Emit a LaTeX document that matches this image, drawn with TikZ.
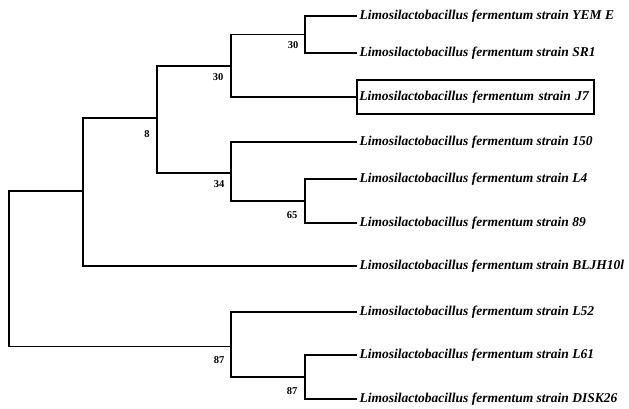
\documentclass[tikz,border=0pt]{standalone}
\usepackage{fontspec}
\setmainfont{Liberation Serif}
\begin{document}
\begin{tikzpicture}[x=1pt,y=-1pt,
  branch/.style={line width=1.5pt},
  leaf/.style={anchor=west,inner sep=2.5pt,font=\fontsize{13.5}{15}\selectfont\bfseries\itshape},
  boot/.style={font=\fontsize{10.5}{12}\selectfont\bfseries}]
\useasboundingbox (0,0) rectangle (629,408);
% leaves
\node[leaf] (yeme) at (357,16) {Limosilactobacillus fermentum strain YEM E};
\node[leaf] (sr1) at (357,53) {Limosilactobacillus fermentum strain SR1};
\node[leaf,draw,line width=1.8pt,minimum height=34pt,text width=232pt] (j7) at (356,97) {Limosilactobacillus fermentum strain J7};
\node[leaf] (l150) at (357,142) {Limosilactobacillus fermentum strain 150};
\node[leaf] (l4) at (357,179) {Limosilactobacillus fermentum strain L4};
\node[leaf] (l89) at (357,223) {Limosilactobacillus fermentum strain 89};
\node[leaf] (bljh) at (357,266) {Limosilactobacillus fermentum strain BLJH10l};
\node[leaf] (l52) at (357,312) {Limosilactobacillus fermentum strain L52};
\node[leaf] (l61) at (357,355) {Limosilactobacillus fermentum strain L61};
\node[leaf] (disk) at (357,399) {Limosilactobacillus fermentum strain DISK26};
% internal nodes
\coordinate (A) at (305,34.5);
\coordinate (B) at (231,66);
\coordinate (C) at (157,118);
\coordinate (D) at (231,173);
\coordinate (E) at (305,201);
\coordinate (F) at (83,191);
\coordinate (G) at (231,346.5);
\coordinate (H) at (305,377);
\coordinate (R) at (9,270);
% branches
\draw[branch] (A) |- (yeme.west);
\draw[branch] (A) |- (sr1.west);
\draw[branch] (B) |- (A);
\draw[branch] (B) |- (j7.west);
\draw[branch] (E) |- (l4.west);
\draw[branch] (E) |- (l89.west);
\draw[branch] (D) |- (l150.west);
\draw[branch] (D) |- (E);
\draw[branch] (C) |- (B);
\draw[branch] (C) |- (D);
\draw[branch] (F) |- (C);
\draw[branch] (F) |- (bljh.west);
\draw[branch] (H) |- (l61.west);
\draw[branch] (H) |- (disk.west);
\draw[branch] (G) |- (l52.west);
\draw[branch] (G) |- (H);
\draw[branch] (R) |- (F);
\draw[branch] (R) |- (G);
% bootstrap values
\node[boot] (bA) at (293,45) {30};
\node[boot] (bB) at (218,77) {30};
\node[boot] (bC) at (147,134) {8};
\node[boot] (bD) at (219,184) {34};
\node[boot] (bE) at (292,215) {65};
\node[boot] (bG) at (219,360) {87};
\node[boot] (bH) at (292,391) {87};
\end{tikzpicture}
\end{document}
